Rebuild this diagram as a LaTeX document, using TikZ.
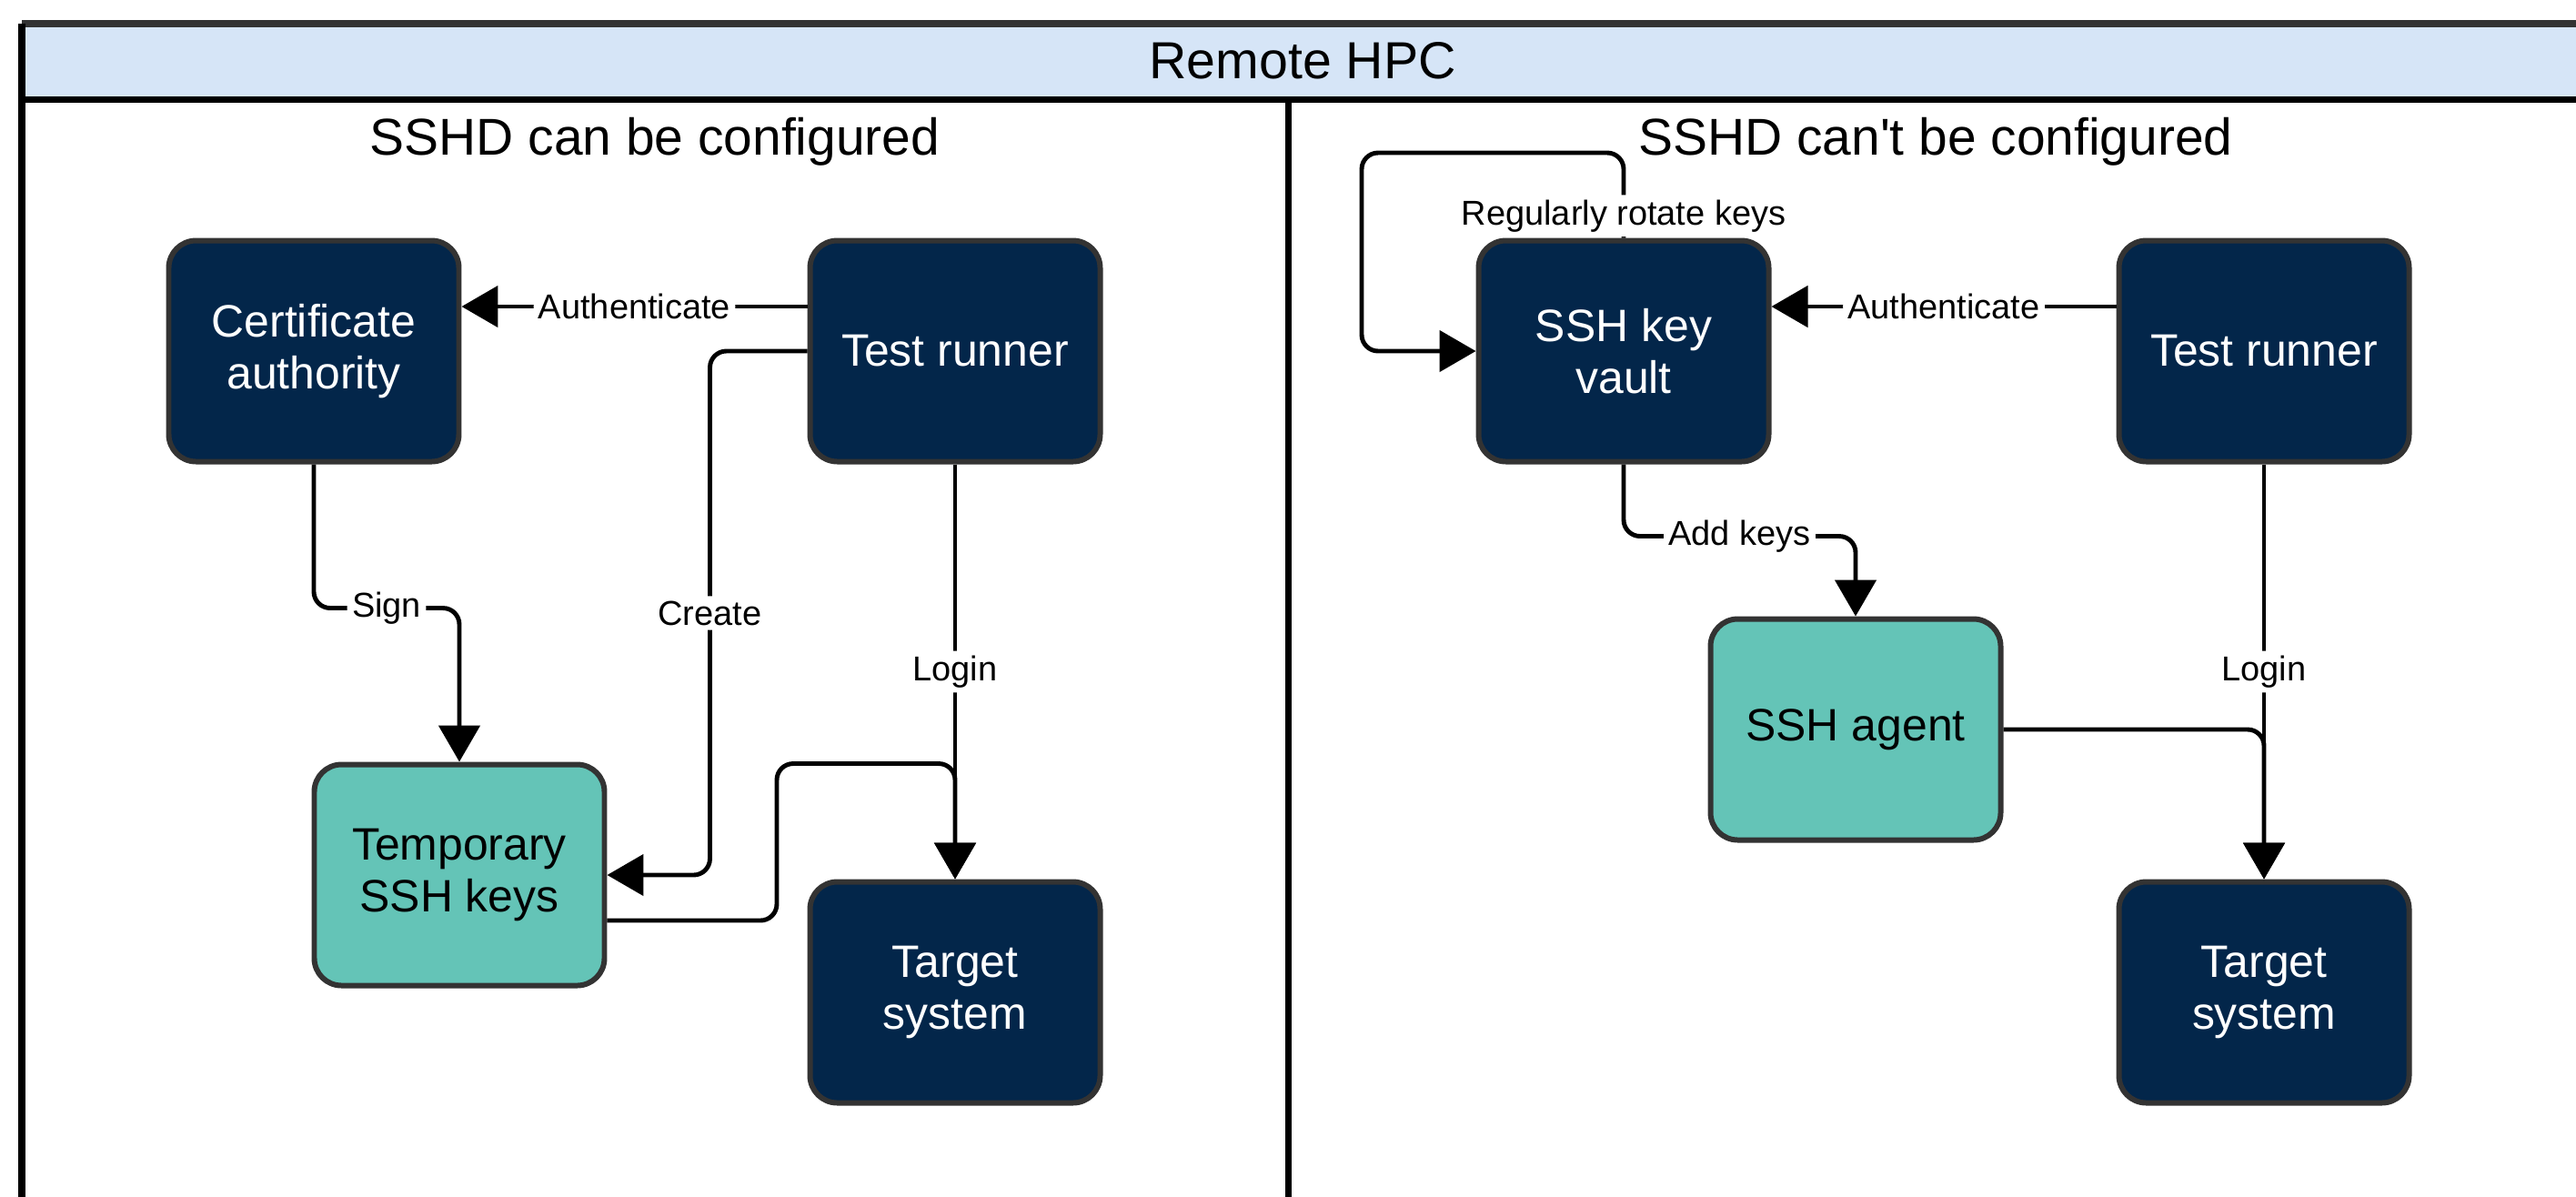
\documentclass[tikz,border=0pt]{standalone}
\usepackage{fontspec}
\setmainfont{Liberation Sans}[Ligatures=TeXOff]
\usetikzlibrary{arrows.meta,positioning}

\definecolor{hpcnavy}{HTML}{03264A}
\definecolor{hpcteal}{HTML}{64C4B7}
\definecolor{hpchead}{HTML}{D6E5F7}
\definecolor{hpcline}{HTML}{333333}

\tikzset{
  darkbox/.style={draw=hpcline, line width=1.7pt, rounded corners=0.3cm, fill=hpcnavy,
    text=white, minimum width=3.19cm, minimum height=2.43cm, align=center,
    font=\fontsize{14.2}{16.4}\selectfont},
  lightbox/.style={darkbox, fill=hpcteal, text=black},
  lanetitle/.style={anchor=base, font=\fontsize{16.2}{19}\selectfont},
  flow/.style={line width=1.4pt, rounded corners=0.18cm, -{Triangle[width=0.45cm,length=0.4cm]}},
  lbl/.style={fill=white, inner sep=1.5pt, font=\fontsize{10.8}{12}\selectfont},
  laneline/.style={line width=2pt},
}

\begin{document}
\begin{tikzpicture}
\useasboundingbox (0,0) rectangle (28.32,-13.15);
\clip (0,0) rectangle (28.32,-13.15);
% swimlane frame
\fill[hpchead] (0.24,-0.26) rectangle (29,-1.09);
\draw[laneline, hpcline] (0.24,-0.26) -- (29,-0.26);
\draw[laneline] (0.24,-1.09) -- (29,-1.09);
\draw[laneline] (0.24,-0.26) -- (0.24,-14);
\draw[laneline] (14.16,-1.09) -- (14.16,-14);
\node[anchor=base, font=\fontsize{16.3}{19}\selectfont] (hpc) at (14.32,-0.86) {Remote HPC};
\node[lanetitle] (laneL) at (7.20,-1.70) {SSHD can be configured};
\node[lanetitle] (laneR) at (21.28,-1.70) {SSHD can't be configured};

% left lane
\node[darkbox] (ca) at (3.45,-3.86) {Certificate\\authority};
\node[darkbox] (trL) at (10.50,-3.86) {Test runner};
\node[lightbox] (tsk) at (5.05,-9.62) {Temporary\\SSH keys};
\node[darkbox] (tsL) at (10.50,-10.91) {Target\\system};

\draw[flow] ([yshift=0.49cm]trL.west) -- node[lbl] {Authenticate} ([yshift=0.49cm]ca.east);
\draw[flow] (trL.west) -| node[lbl, pos=0.75] {Create} ([xshift=1.13cm]tsk.east) -- (tsk.east);
\draw[flow] (ca.south) |- node[lbl, pos=0.75] {Sign} ([yshift=1.69cm]tsk.north) -- (tsk.north);
\draw[flow] (trL.south) -- node[lbl] {Login} (tsL.north);
\draw[flow] ([yshift=-0.5cm]tsk.east) -| ([xshift=-1.96cm,yshift=1.27cm]tsL.north) -| (tsL.north);

% right lane
\node[darkbox] (vault) at (17.85,-3.86) {SSH key\\vault};
\node[darkbox] (trR) at (24.89,-3.86) {Test runner};
\node[lightbox] (agent) at (20.40,-8.02) {SSH agent};
\node[darkbox] (tsR) at (24.89,-10.91) {Target\\system};

\draw[flow] ([yshift=0.49cm]trR.west) -- node[lbl] {Authenticate} ([yshift=0.49cm]vault.east);
\draw[flow] (vault.north) |- node[lbl, pos=0.13] {Regularly rotate keys} (14.97,-1.68) |- (vault.west);
\draw[flow] (vault.south) |- node[lbl, pos=0.75] {Add keys} ([yshift=0.88cm]agent.north) -- (agent.north);
\draw[flow] (trR.south) -- node[lbl] {Login} (tsR.north);
\draw[flow] (agent.east) -| (tsR.north);
\end{tikzpicture}
\end{document}
